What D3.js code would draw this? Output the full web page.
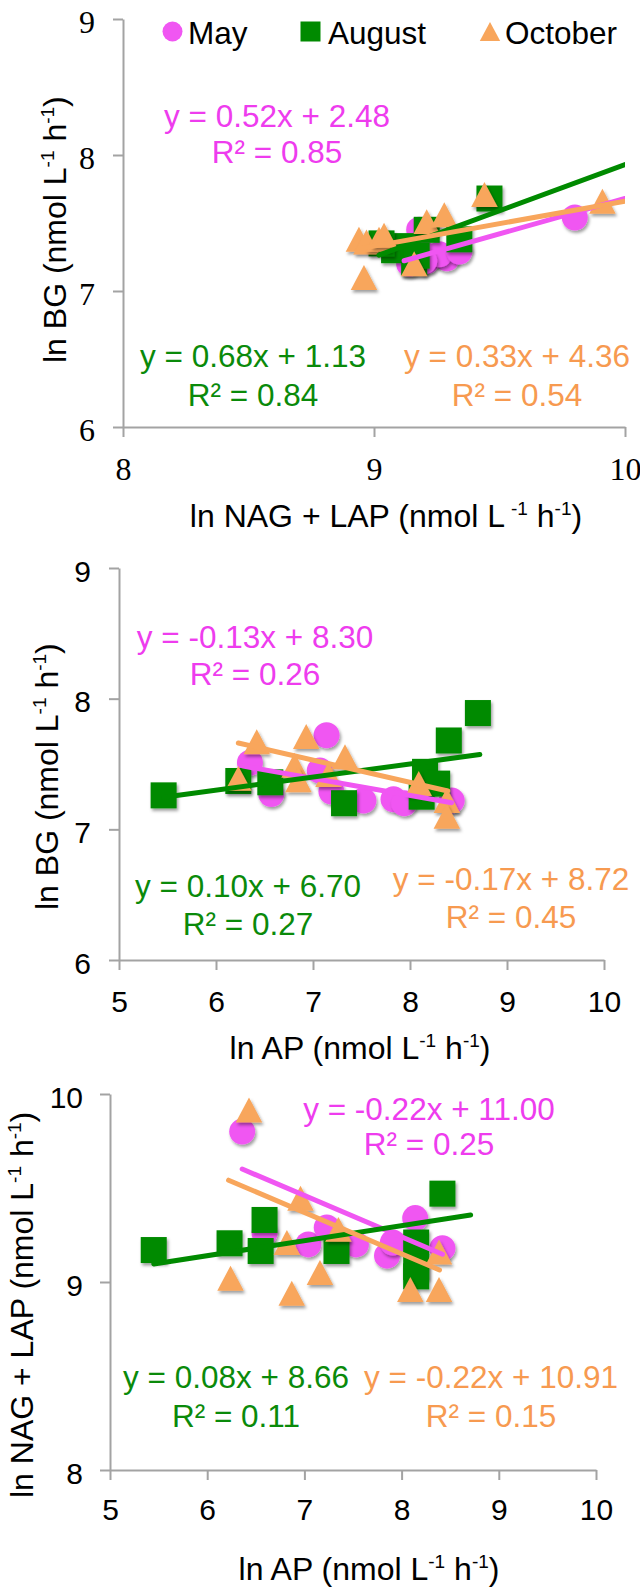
<!DOCTYPE html>
<html><head><meta charset="utf-8">
<script src="https://cdn.jsdelivr.net/npm/d3@7/dist/d3.min.js"></script>
<style>body{margin:0;background:#fff}svg{display:block}</style>
</head><body><svg id="c" width="640" height="1587"></svg>
<script>
// ---------------- DATA ----------------
const seriesNames = ["May", "August", "October"];

// Panel 1: x = ln NAG + LAP, y = ln BG
const p1May = [[9.80,7.54],[9.14,7.20],[9.18,7.45],[9.29,7.24],[9.21,7.22],[9.20,7.27],[9.26,7.27],[9.34,7.29],[9.20,7.22]];
const p1Aug = [[9.46,7.68],[9.34,7.38],[9.21,7.45],[9.11,7.33],[9.08,7.30],[9.16,7.21],[9.03,7.35],[9.17,7.26]];
const p1Oct = [[9.44,7.71],[9.91,7.66],[8.94,7.38],[8.97,7.36],[9.02,7.38],[9.04,7.41],[8.96,7.10],[9.16,7.20],[9.21,7.51],[9.28,7.56]];
const p1Fits = [[0.52,2.48,0.85],[0.68,1.13,0.84],[0.33,4.36,0.54]];   // slope, intercept, R²
const p1FitRanges = [[9.12,10],[9.02,10],[8.95,10]];
const p1XTicks = [8,9,10];
const p1YTicks = [6,7,8,9];

// Panel 2: x = ln AP, y = ln BG
const p2May = [[6.35,7.51],[6.57,7.27],[7.14,7.72],[7.07,7.45],[7.19,7.29],[7.52,7.22],[7.83,7.23],[7.94,7.20],[8.43,7.22]];
const p2Aug = [[5.46,7.26],[6.23,7.37],[6.56,7.36],[7.32,7.20],[8.12,7.25],[8.155,7.44],[8.28,7.35],[8.40,7.68],[8.70,7.89]];
const p2Oct = [[6.23,7.39],[6.42,7.67],[6.93,7.71],[6.81,7.49],[6.85,7.38],[7.16,7.42],[7.33,7.555],[8.09,7.35],[8.38,7.22],[8.38,7.10]];
const p2Fits = [[-0.13,8.30,0.26],[0.10,6.70,0.27],[-0.17,8.72,0.45]];
const p2FitRanges = [[6.28,8.43],[5.46,8.72],[6.23,8.39]];
const p2XTicks = [5,6,7,8,9,10];
const p2YTicks = [6,7,8,9];

// Panel 3: x = ln AP, y = ln NAG + LAP
const p3May = [[6.36,9.80],[6.59,9.26],[7.04,9.20],[7.23,9.29],[7.53,9.20],[7.85,9.14],[7.91,9.21],[8.14,9.34],[8.42,9.18]];
const p3Aug = [[5.45,9.17],[6.23,9.206],[6.59,9.33],[6.55,9.165],[7.33,9.165],[8.42,9.47],[8.15,9.21],[8.15,9.08],[8.15,9.03]];
const p3Oct = [[6.43,9.915],[6.96,9.445],[6.82,9.21],[6.24,9.02],[6.87,8.94],[7.16,9.05],[7.35,9.28],[8.385,9.16],[8.09,8.96],[8.385,8.96]];
const p3Fits = [[-0.22,11.00,0.25],[0.08,8.66,0.11],[-0.22,10.91,0.15]];
const p3FitRanges = [[6.36,8.42],[5.45,8.71],[6.22,8.39]];
const p3XTicks = [5,6,7,8,9,10];
const p3YTicks = [8,9,10];

// ---------------- STYLE ----------------
const markerColors = ["#F056F2", "#008A00", "#F8A65C"];
const textColors   = ["#EE3CEE", "#0A8A0A", "#F79A50"];
const axisColor = "#A3A3A3";
const SANS = "'Liberation Sans', Arial, sans-serif";
const SERIF = "'Liberation Serif', 'Times New Roman', serif";

const svg = d3.select("#c");
const defs = svg.append("defs");
const f = defs.append("filter").attr("id","sh").attr("x","-50%").attr("y","-50%").attr("width","200%").attr("height","200%");
f.append("feDropShadow").attr("dx",1.5).attr("dy",2.5).attr("stdDeviation",1.8)
  .attr("flood-color","#000").attr("flood-opacity",0.38);

function eqText(fit){
  const s = fit[0].toFixed(2), b = fit[1].toFixed(2);
  return `y = ${s}x + ${b}`;
}

function marker(sel, type, cx, cy, sz, color, shadow){
  let m;
  if(type === 0){
    m = sel.append("circle").attr("cx",cx).attr("cy",cy).attr("r",sz/2);
  } else if(type === 1){
    m = sel.append("rect").attr("x",cx-sz/2).attr("y",cy-sz/2).attr("width",sz).attr("height",sz);
  } else {
    const w = sz*1.02, h = sz*0.96;
    m = sel.append("path").attr("d",`M${cx-w/2},${cy+h/2}L${cx+w/2},${cy+h/2}L${cx},${cy-h/2}Z`);
  }
  m.attr("fill",color);
  if(shadow) m.attr("filter","url(#sh)");
  return m;
}

function title(sel, parts){
  let afterSup = false;
  parts.forEach(pt=>{
    const ts = sel.append("tspan").text(pt.t);
    if(pt.sup){
      ts.attr("dy",-12).style("font-size","19px");
      if(pt.dx) ts.attr("dx",pt.dx);
      afterSup = true;
    } else if(afterSup){
      ts.attr("dy",12);
      afterSup = false;
    }
  });
}

function drawPanel(cfg, idx){
  const x = d3.scaleLinear().domain(cfg.xDom).range(cfg.xRange);
  const y = d3.scaleLinear().domain(cfg.yDom).range(cfg.yRange);
  const g = svg.append("g");

  const cp = defs.append("clipPath").attr("id","clip"+idx);
  cp.append("rect").attr("x",cfg.xRange[0]).attr("y",cfg.yRange[1])
    .attr("width",cfg.xRange[1]-cfg.xRange[0]).attr("height",cfg.yRange[0]-cfg.yRange[1]);

  // axes
  const yg = g.append("g").attr("transform",`translate(${cfg.xRange[0]},0)`)
    .call(d3.axisLeft(y).tickValues(cfg.yTicks).tickSize(10).tickSizeOuter(0).tickFormat(d3.format("d")));
  const xg = g.append("g").attr("transform",`translate(0,${cfg.yRange[0]})`)
    .call(d3.axisBottom(x).tickValues(cfg.xTicks).tickSize(10).tickSizeOuter(0).tickFormat(d3.format("d")));
  [yg,xg].forEach(a=>{
    a.select(".domain").attr("stroke",axisColor).attr("stroke-width",2);
    a.selectAll(".tick line").attr("stroke",axisColor).attr("stroke-width",2);
    a.selectAll(".tick text").attr("fill","#000")
      .style("font-family",cfg.tickFont).style("font-size",cfg.tickPx+"px");
  });
  yg.selectAll(".tick text").attr("x", cfg.yLabelRight - cfg.xRange[0]).attr("dy", cfg.yLabelDy+"px");
  xg.selectAll(".tick text").attr("y", cfg.xLabelBase).attr("dy", 0);

  // markers
  const mg = g.append("g");
  cfg.series.forEach((data, si)=>{
    data.forEach(d=>marker(mg, si, x(d[0]), y(d[1]), 26, markerColors[si], true));
  });

  // trendlines
  const lg = g.append("g").attr("clip-path",`url(#clip${idx})`);
  const line = d3.line().x(d=>x(d[0])).y(d=>y(d[1]));
  cfg.fits.forEach((fit, si)=>{
    const r = cfg.fitRanges[si];
    const pts = r.map(v=>[v, fit[0]*v + fit[1]]);
    lg.append("path").attr("d", line(pts)).attr("fill","none")
      .attr("stroke", markerColors[si]).attr("stroke-width",5).attr("stroke-linecap","round");
  });

  // equation labels
  cfg.fits.forEach((fit, si)=>{
    const p = cfg.eqPos[si];
    const t = g.append("g").attr("fill",textColors[si]).style("font-family",SANS).style("font-size","31.5px").attr("text-anchor","middle");
    t.append("text").attr("x",p[0]).attr("y",p[1]).text(eqText(fit));
    t.append("text").attr("x",p[0]).attr("y",p[2]).text(`R² = ${fit[2].toFixed(2)}`);
  });

  // axis titles
  const xt = g.append("text").attr("x",cfg.xTitle[0]).attr("y",cfg.xTitle[1]).attr("text-anchor","middle")
    .style("font-family",SANS).style("font-size","32px").attr("fill","#000");
  title(xt, cfg.xTitleParts);
  const yt = g.append("text").attr("transform",`translate(${cfg.yTitle[0]},${cfg.yTitle[1]}) rotate(-90)`)
    .attr("text-anchor","start").style("font-family",SANS).style("font-size","32px").attr("fill","#000");
  title(yt, cfg.yTitleParts);
}

const unitParts = (lbl, gap) => [{t:lbl+" (nmol L"},{t:"-1",sup:true,dx:gap},{t:" h"},{t:"-1",sup:true},{t:")"}];

const panels = [
  { xDom:[8,10], xRange:[123,625], yDom:[6,9], yRange:[427,19],
    xTicks:p1XTicks, yTicks:p1YTicks, tickFont:SERIF, tickPx:32, yLabelRight:95, yLabelDy:13, xLabelBase:53,
    series:[p1May,p1Aug,p1Oct], fits:p1Fits, fitRanges:p1FitRanges,
    eqPos:[[277,127,163],[253,367,406],[517,367,406]],
    xTitle:[386,527], xTitleParts:unitParts("ln NAG + LAP",6),
    yTitle:[66,363], yTitleParts:unitParts("ln BG",0) },
  { xDom:[5,10], xRange:[119,604], yDom:[6,9], yRange:[960,568],
    xTicks:p2XTicks, yTicks:p2YTicks, tickFont:SANS, tickPx:30, yLabelRight:91, yLabelDy:13, xLabelBase:52,
    series:[p2May,p2Aug,p2Oct], fits:p2Fits, fitRanges:p2FitRanges,
    eqPos:[[255,648,685],[248,897,935],[511,890,928]],
    xTitle:[360,1059], xTitleParts:unitParts("ln AP",0),
    yTitle:[58,910], yTitleParts:unitParts("ln BG",0) },
  { xDom:[5,10], xRange:[110,596], yDom:[8,10], yRange:[1470,1094],
    xTicks:p3XTicks, yTicks:p3YTicks, tickFont:SANS, tickPx:30, yLabelRight:83, yLabelDy:13, xLabelBase:50,
    series:[p3May,p3Aug,p3Oct], fits:p3Fits, fitRanges:p3FitRanges,
    eqPos:[[429,1120,1155],[236,1388,1427],[491,1388,1427]],
    xTitle:[369,1580], xTitleParts:unitParts("ln AP",0),
    yTitle:[33,1498], yTitleParts:unitParts("ln NAG + LAP",0) }
];
panels.forEach((p,i)=>drawPanel(p,i));

// legend (panel 1)
const leg = svg.append("g").style("font-family",SANS).style("font-size","31.5px").attr("fill","#000");
const legPos = [[172.5,188],[310.5,328],[490,505]];
seriesNames.forEach((n,i)=>{
  marker(leg, i, legPos[i][0], 31.5, 20, markerColors[i], false);
  leg.append("text").attr("x",legPos[i][1]).attr("y",44).text(n);
});
</script></body></html>
